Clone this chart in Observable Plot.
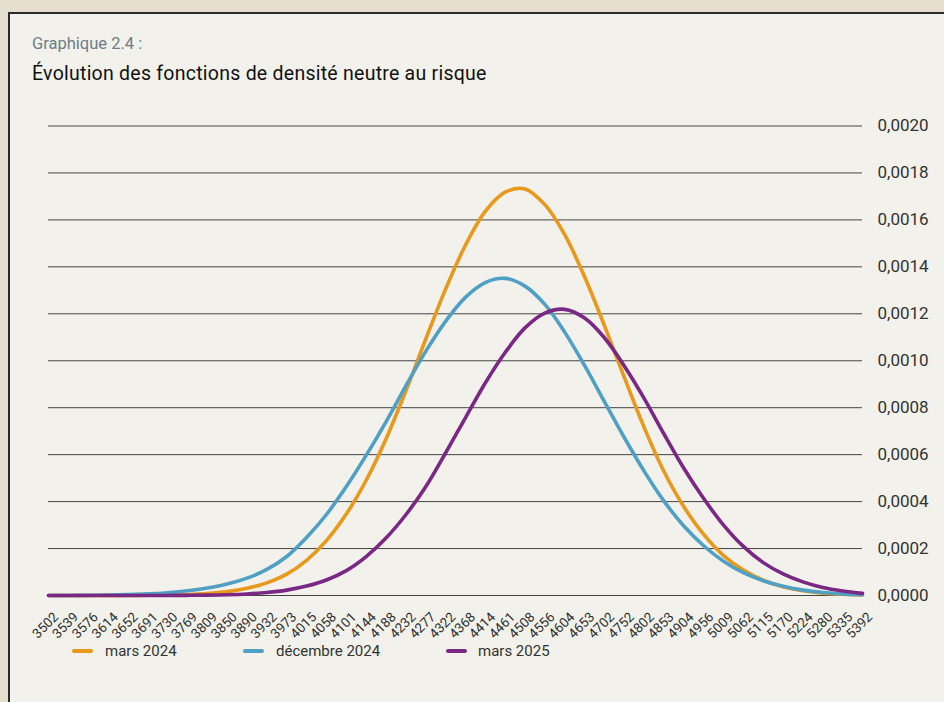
<!DOCTYPE html>
<html>
<head>
<meta charset="utf-8">
<script src="https://cdn.jsdelivr.net/npm/d3@7"></script>
<script src="https://cdn.jsdelivr.net/npm/@observablehq/plot@0.6"></script>
<style>
  html, body { margin: 0; padding: 0; }
  body { width: 944px; height: 702px; overflow: hidden; position: relative; background: #e5ddcd; font-family: Roboto, "DejaVu Sans", sans-serif; }
  #panel { position: absolute; left: 8px; top: 12px; right: 0; bottom: 0; background: #f2f1eb; border-left: 2.5px solid #2b2b2b; border-top: 2.5px solid #2b2b2b; }
  #sub { position: absolute; left: 32px; top: 35px; font-size: 16.5px; line-height: 17px; color: #6d7d89; }
  #title { position: absolute; left: 32px; top: 63px; font-size: 19.5px; line-height: 21px; font-weight: 400; letter-spacing: 0.25px; color: #111; }
  #chart { position: absolute; left: 0; top: 100px; }
  .leg { position: absolute; top: 642px; font-size: 15px; line-height: 18px; color: #333; }
  .sw { position: absolute; width: 21px; height: 4px; border-radius: 2px; }
</style>
</head>
<body>
<div id="panel"></div>
<div id="sub">Graphique 2.4 :</div>
<div id="title">Évolution des fonctions de densité neutre au risque</div>
<div id="chart"></div>
<div id="legend"></div>
<script>
const xLabels = [3502,3539,3576,3614,3652,3691,3730,3769,3809,3850,3890,3932,3973,4015,4058,4101,4144,4188,4232,4277,4322,4368,4414,4461,4508,4556,4604,4653,4702,4752,4802,4853,4904,4956,5009,5062,5115,5170,5224,5280,5335,5392];

const seriesNames = ["mars 2024", "décembre 2024", "mars 2025"];
const seriesColors = ["#e8981b", "#4fa0c4", "#7a2884"];

// values in units of 1e-6
const mars2024 = [0,0,0,0.2,0.5,1,2,4.3,8.6,16.5,31,54,91,150,234,347,491,667,872,1092,1305,1492,1636,1718,1732,1665,1537,1358,1150,930,716,528,378,260,170,108,65,37,20,10,5,2];
const decembre2024 = [0,0.3,0.9,1.7,3.8,6.8,12,20,32,49,74,111,166,247,345,464,597,740,893,1040,1168,1270,1333,1351,1318,1240,1122,980,826,673,530,402,296,212,146,97,63,39,23,13,7,3.5];
const mars2025 = [0,0,0,0,0,0,0.3,0.7,1.6,3.3,6.6,12.6,23,40,66,106,166,245,344,463,607,757,905,1035,1140,1203,1219,1182,1098,978,840,688,542,413,300,209,140,92,58,34,19,9];

const yTicks = [0,0.0002,0.0004,0.0006,0.0008,0.0010,0.0012,0.0014,0.0016,0.0018,0.0020];

const seriesValues = [mars2024, decembre2024, mars2025];
const data = [];
seriesValues.forEach((vals, s) => vals.forEach((v, i) => data.push({series: seriesNames[s], i, v: v * 1e-6})));

const fmt = d => d.toFixed(4).replace(".", ",");

const chart = Plot.plot({
  width: 944,
  height: 540,
  marginLeft: 48,
  marginRight: 82,
  marginTop: 25.5,
  marginBottom: 45,
  x: {domain: [0, xLabels.length - 1], axis: null},
  y: {domain: [0, 0.002], axis: null},
  color: {domain: seriesNames, range: seriesColors},
  style: {background: "transparent", fontFamily: "Roboto, 'DejaVu Sans', sans-serif", overflow: "visible"},
  marks: [
    Plot.ruleY(yTicks, {stroke: "#444", strokeWidth: 1}),
    Plot.line(data, {x: "i", y: "v", z: "series", stroke: "series", strokeWidth: 3.6, curve: "catmull-rom", strokeLinejoin: "round", strokeLinecap: "round"}),
    Plot.text(yTicks, {y: d => d, frameAnchor: "right", dx: 15, textAnchor: "start", text: fmt, fontSize: 17, fill: "#333"}),
    Plot.text(xLabels, {x: (d, i) => i, frameAnchor: "bottom", dy: 33, dx: 0, rotate: -45, textAnchor: "middle", text: d => String(d), fontSize: 13.5, fill: "#333"})
  ]
});
document.getElementById("chart").appendChild(chart);

const legendPos = [{sw: 72, tx: 105}, {sw: 243, tx: 276}, {sw: 446, tx: 478}];
const legend = document.getElementById("legend");
seriesNames.forEach((name, k) => {
  const sw = document.createElement("div");
  sw.className = "sw";
  sw.style.left = legendPos[k].sw + "px";
  sw.style.top = "649px";
  sw.style.background = seriesColors[k];
  legend.appendChild(sw);
  const t = document.createElement("div");
  t.className = "leg";
  t.style.left = legendPos[k].tx + "px";
  t.textContent = name;
  legend.appendChild(t);
});
</script>
</body>
</html>
